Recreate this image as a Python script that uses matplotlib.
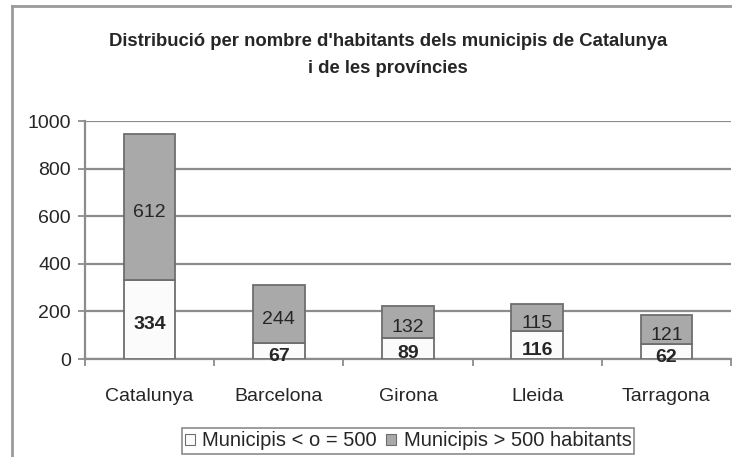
import numpy as np
import matplotlib.pyplot as plt
from matplotlib.lines import Line2D
from matplotlib.patches import Patch

plt.rcParams['font.family'] = ['Liberation Sans', 'DejaVu Sans']

# data
categories = ["Catalunya", "Barcelona", "Girona", "Lleida", "Tarragona"]
petits = [334, 67, 89, 116, 62]      # municipis <= 500 hab.
grans = [612, 244, 132, 115, 121]    # municipis > 500 hab.
yticks = [0, 200, 400, 600, 800, 1000]

title = "Distribució per nombre d'habitants dels municipis de Catalunya\ni de les províncies"
legend_labels = ["Municipis < o = 500", "Municipis > 500 habitants"]

grey_line = "#8c8c8c"
text_col = "#262626"
white_fill = "#fbfbfb"
grey_fill = "#a9a9a9"
edge = "#6e6e6e"

fig = plt.figure(figsize=(7.32, 4.57), dpi=100)
ax = fig.add_axes([85 / 732, 1 - 359 / 457, 646 / 732, 238 / 457])

x = np.arange(len(categories))
w = 0.40
ax.bar(x, petits, width=w, color=white_fill, edgecolor=edge, linewidth=1.3, zorder=3)
ax.bar(x, grans, width=w, bottom=petits, color=grey_fill, edgecolor=edge, linewidth=1.3, zorder=3)

for i in range(len(categories)):
    ax.annotate(str(petits[i]), (x[i], petits[i] / 2), xytext=(0, -4), textcoords="offset points",
                ha="center", va="center", fontsize=14, fontweight="bold", color=text_col, zorder=5)
    ax.annotate(str(grans[i]), (x[i], petits[i] + grans[i] / 2), xytext=(0, -4), textcoords="offset points",
                ha="center", va="center", fontsize=14, color=text_col, zorder=5)

ax.set_xlim(-0.5, len(categories) - 0.5)
ax.set_ylim(0, 1000)
ax.set_yticks(yticks)
ax.set_yticklabels([str(v) for v in yticks])
ax.grid(axis="y", color=grey_line, linewidth=1.6, zorder=0)
ax.set_axisbelow(True)

ax.set_xticks(x)
ax.set_xticklabels(categories)
ax.set_xticks(np.arange(len(categories) + 1) - 0.5, minor=True)
ax.tick_params(axis="x", which="major", length=0, pad=21, labelsize=14, labelcolor=text_col)
ax.tick_params(axis="x", which="minor", length=5, width=1.3, color=grey_line, direction="out")
ax.tick_params(axis="y", length=5, width=1.3, color=grey_line, pad=5, labelsize=14, labelcolor=text_col)

for s in ["top", "right"]:
    ax.spines[s].set_visible(False)
for s in ["left", "bottom"]:
    ax.spines[s].set_color(grey_line)
    ax.spines[s].set_linewidth(1.6)

fig.text(388 / 732, 1 - 55 / 457, title, ha="center", va="center", fontsize=13.3,
         fontweight="bold", color=text_col, linespacing=1.75)

handles = [Patch(facecolor=white_fill, edgecolor=edge, linewidth=0.8),
           Patch(facecolor=grey_fill, edgecolor=edge, linewidth=0.8)]
leg = fig.legend(handles, legend_labels, loc="center", bbox_to_anchor=(408 / 732, 1 - 441 / 457),
                 ncol=2, fontsize=14.5, frameon=True, fancybox=False, handlelength=0.5,
                 handleheight=0.5, handletextpad=0.35, columnspacing=0.5, borderpad=0.15,
                 borderaxespad=0)
leg.get_frame().set_edgecolor(edge)
leg.get_frame().set_linewidth(1.2)
for t in leg.get_texts():
    t.set_color(text_col)

# outer frame (left and top edges)
fig.add_artist(Line2D([12 / 732, 12 / 732], [0, 1 - 6 / 457], transform=fig.transFigure,
                      color="#9a9a9a", linewidth=2))
fig.add_artist(Line2D([12 / 732, 1], [1 - 6 / 457, 1 - 6 / 457], transform=fig.transFigure,
                      color="#9a9a9a", linewidth=2))

fig.savefig("out.png", dpi=100)
